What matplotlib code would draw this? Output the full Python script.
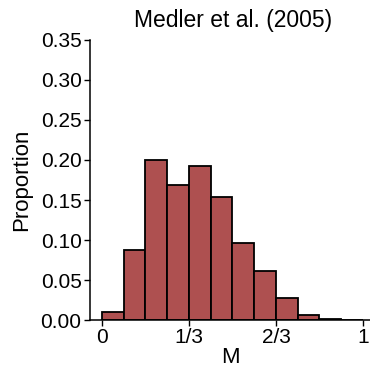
import matplotlib
matplotlib.use("Agg")
import matplotlib.pyplot as plt
import numpy as np

plt.rcParams['font.family'] = ['Liberation Sans', 'DejaVu Sans']

bin_edges = [i / 12 for i in range(13)]
proportions = [0.0104, 0.0873, 0.2005, 0.1683, 0.193, 0.1533, 0.0965, 0.0618, 0.028, 0.0067, 0.0017, 0.0]
xtick_vals = [0, 1/3, 2/3, 1]
xtick_labels = ["0", "1/3", "2/3", "1"]
ytick_vals = [0.0, 0.05, 0.10, 0.15, 0.20, 0.25, 0.30, 0.35]

fig = plt.figure(figsize=(3.7, 3.7), dpi=100)
ax = fig.add_axes([0.243, 0.135, 0.757, 0.757])

lefts = np.array(bin_edges[:-1])
widths = np.diff(bin_edges)
ax.bar(lefts, proportions, width=widths, align='edge', color='#AE5050',
       edgecolor='black', linewidth=1.3)

ax.set_xlim(-0.046, 1.027)
ax.set_ylim(0, 0.35)
ax.set_xticks(xtick_vals)
ax.set_xticklabels(xtick_labels)
ax.set_yticks(ytick_vals)
ax.set_yticklabels([f"{v:.2f}" for v in ytick_vals])
ax.tick_params(labelsize=15, length=4, width=1, pad=2)
for s in ['top', 'right']:
    ax.spines[s].set_visible(False)
for s in ['left', 'bottom']:
    ax.spines[s].set_linewidth(1.1)

ax.set_xlabel("M", fontsize=16, labelpad=0)
ax.set_ylabel("Proportion", fontsize=16, labelpad=6)
ax.set_title("Medler et al. (2005)", fontsize=16.5, pad=9, x=0.51)

fig.savefig("out.png", dpi=100)
